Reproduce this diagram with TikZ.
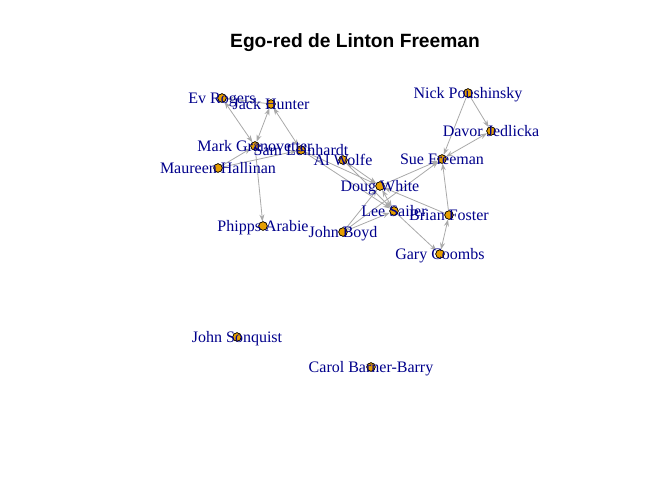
\documentclass[tikz,border=0pt]{standalone}
\usepackage{fontspec}
\setmainfont{Liberation Serif}
\newfontfamily\titlefont{Liberation Sans}
\usetikzlibrary{arrows.meta}
\definecolor{lblblue}{HTML}{00008B}
\definecolor{vorange}{HTML}{E69F00}
\definecolor{edgegray}{HTML}{A9A9A9}
\tikzset{
  vtx/.style={circle, draw=black, fill=vorange, line width=0.6pt, minimum size=8.5pt, inner sep=0pt},
  lbl/.style={font=\fontsize{16}{16}\selectfont, text=lblblue, anchor=base, yshift=-5.3pt, inner sep=0pt},
  edge/.style={draw=edgegray, line width=0.8pt, -{Stealth[length=7pt,width=5pt]}},
  bedge/.style={draw=edgegray, line width=0.8pt, {Stealth[length=7pt,width=5pt]}-{Stealth[length=7pt,width=5pt]}},
}
\begin{document}
\begin{tikzpicture}[x=1pt,y=-1pt]
\useasboundingbox (0,0) rectangle (672,480);
% vertices
\node[vtx] (ev) at (222,98) {};
\node[vtx] (jack) at (271,104) {};
\node[vtx] (mark) at (255,146) {};
\node[vtx] (sam) at (301,150) {};
\node[vtx] (maureen) at (218,168) {};
\node[vtx] (phipps) at (263,226) {};
\node[vtx] (al) at (343,160) {};
\node[vtx] (doug) at (380,186) {};
\node[vtx] (lee) at (394,211) {};
\node[vtx] (john) at (343,232) {};
\node[vtx] (brian) at (449,215) {};
\node[vtx] (gary) at (440,254) {};
\node[vtx] (sue) at (442,159) {};
\node[vtx] (davor) at (491,131) {};
\node[vtx] (nick) at (468,93) {};
\node[vtx] (sonquist) at (237,337) {};
\node[vtx] (carol) at (371,367) {};
% edges
\begin{scope}[on background layer/.style={}]
\draw[bedge] (ev) -- (mark);
\draw[bedge] (jack) -- (mark);
\draw[bedge] (jack) -- (sam);
\draw[edge] (jack) -- (ev);
\draw[edge] (maureen) -- (mark);
\draw[edge] (maureen) -- (sam);
\draw[edge] (mark) -- (phipps);
\draw[edge] (sam) -- (doug);
\draw[edge] (sam) -- (lee);
\draw[bedge] (al) -- (doug);
\draw[edge] (al) -- (lee);
\draw[bedge] (doug) -- (lee);
\draw[edge] (doug) -- (sue);
\draw[edge] (brian) -- (doug);
\draw[edge] (john) -- (doug);
\draw[edge] (john) -- (lee);
\draw[edge] (john) -- (sue);
\draw[edge] (lee) -- (gary);
\draw[bedge] (brian) -- (gary);
\draw[edge] (brian) -- (sue);
\draw[edge] (nick) -- (sue);
\draw[edge] (nick) -- (davor);
\draw[bedge] (davor) -- (sue);
\end{scope}
% redraw vertices on top of edges
\foreach \n/\x/\y in {ev/222/98,jack/271/104,mark/255/146,sam/301/150,maureen/218/168,phipps/263/226,al/343/160,doug/380/186,lee/394/211,john/343/232,brian/449/215,gary/440/254,sue/442/159,davor/491/131,nick/468/93,sonquist/237/337,carol/371/367}
  \fill[vorange, draw=black, line width=0.6pt] (\x,\y) circle (4.25pt);
% labels
\node[lbl] (lev) at (222,98) {Ev Rogers};
\node[lbl] (ljack) at (271,104) {Jack Hunter};
\node[lbl] (lmark) at (255,146) {Mark Granovetter};
\node[lbl] (lsam) at (301,150) {Sam Leinhardt};
\node[lbl] (lmaureen) at (218,168) {Maureen Hallinan};
\node[lbl] (lphipps) at (263,226) {Phipps Arabie};
\node[lbl] (lal) at (343,160) {Al Wolfe};
\node[lbl] (ldoug) at (380,186) {Doug White};
\node[lbl] (llee) at (394,211) {Lee Sailer};
\node[lbl] (ljohn) at (343,232) {John Boyd};
\node[lbl] (lbrian) at (449,215) {Brian Foster};
\node[lbl] (lgary) at (440,254) {Gary Coombs};
\node[lbl] (lsue) at (442,159) {Sue Freeman};
\node[lbl] (ldavor) at (491,131) {Davor Jedlicka};
\node[lbl] (lnick) at (468,93) {Nick Poushinsky};
\node[lbl] (lsonquist) at (237,337) {John Sonquist};
\node[lbl] (lcarol) at (371,367) {Carol Barner-Barry};
% title
\node[font=\titlefont\bfseries\fontsize{19.2}{19.2}\selectfont, anchor=base, inner sep=0pt] (title) at (355,47.5) {Ego-red de Linton Freeman};
\end{tikzpicture}
\end{document}
